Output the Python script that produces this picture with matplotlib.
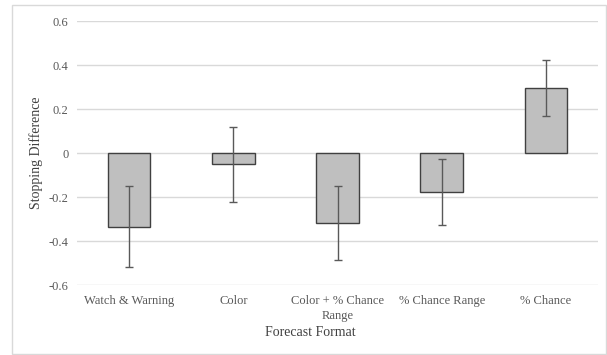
import numpy as np
import matplotlib
matplotlib.use("Agg")
import matplotlib.pyplot as plt
from matplotlib.patches import Rectangle

# data
formats = ["Watch & Warning", "Color", "Color + % Chance\nRange",
           "% Chance Range", "% Chance"]
stop_diff = [-0.335, -0.051, -0.32, -0.179, 0.294]
err_low = [0.185, 0.172, 0.168, 0.148, 0.127]
err_high = [0.183, 0.169, 0.171, 0.153, 0.127]
yticks = [-0.6, -0.4, -0.2, 0, 0.2, 0.4, 0.6]
ytick_labels = ["-0.6", "-0.4", "-0.2", "0", "0.2", "0.4", "0.6"]

plt.rcParams["font.family"] = ["Liberation Serif", "DejaVu Serif"]

W, H = 607, 355
fig = plt.figure(figsize=(W / 100, H / 100), dpi=100)
ax = fig.add_axes([77 / W, 1 - 285 / H, (598 - 77) / W, (285 - 21) / H])

x = np.arange(len(formats))
ax.bar(x, stop_diff, width=0.41, color="#bfbfbf", edgecolor="#404040",
       linewidth=1.0, zorder=3)
ax.errorbar(x, stop_diff, yerr=[err_low, err_high], fmt="none",
            ecolor="#595959", elinewidth=1.0, capsize=3, capthick=1.0, zorder=4)

ax.set_xlim(-0.5, len(formats) - 0.5)
ax.set_ylim(-0.6, 0.6)
ax.set_yticks(yticks)
ax.set_yticklabels(ytick_labels)
ax.set_xticks(x)
ax.set_xticklabels(formats, linespacing=1.25)
ax.tick_params(axis="both", length=0, labelsize=9, colors="#595959")
ax.tick_params(axis="y", pad=6)
ax.tick_params(axis="x", pad=7.5)
ax.yaxis.grid(True, color="#d9d9d9", linewidth=1.0, zorder=0)
for s in ax.spines.values():
    s.set_visible(False)

ax.set_ylabel("Stopping Difference", fontsize=10, color="#404040")
ax.yaxis.set_label_coords((43 - 77) / (598 - 77), 0.5)
fig.text(310 / W, 1 - 333 / H, "Forecast Format", fontsize=10,
         color="#404040", ha="center", va="center")

# outer chart border
fig.add_artist(Rectangle((12 / W, 1 - 354 / H), (606 - 12) / W, (354 - 5) / H,
                         transform=fig.transFigure, fill=False,
                         edgecolor="#d9d9d9", linewidth=1.0))

fig.savefig("out.png", dpi=100)
